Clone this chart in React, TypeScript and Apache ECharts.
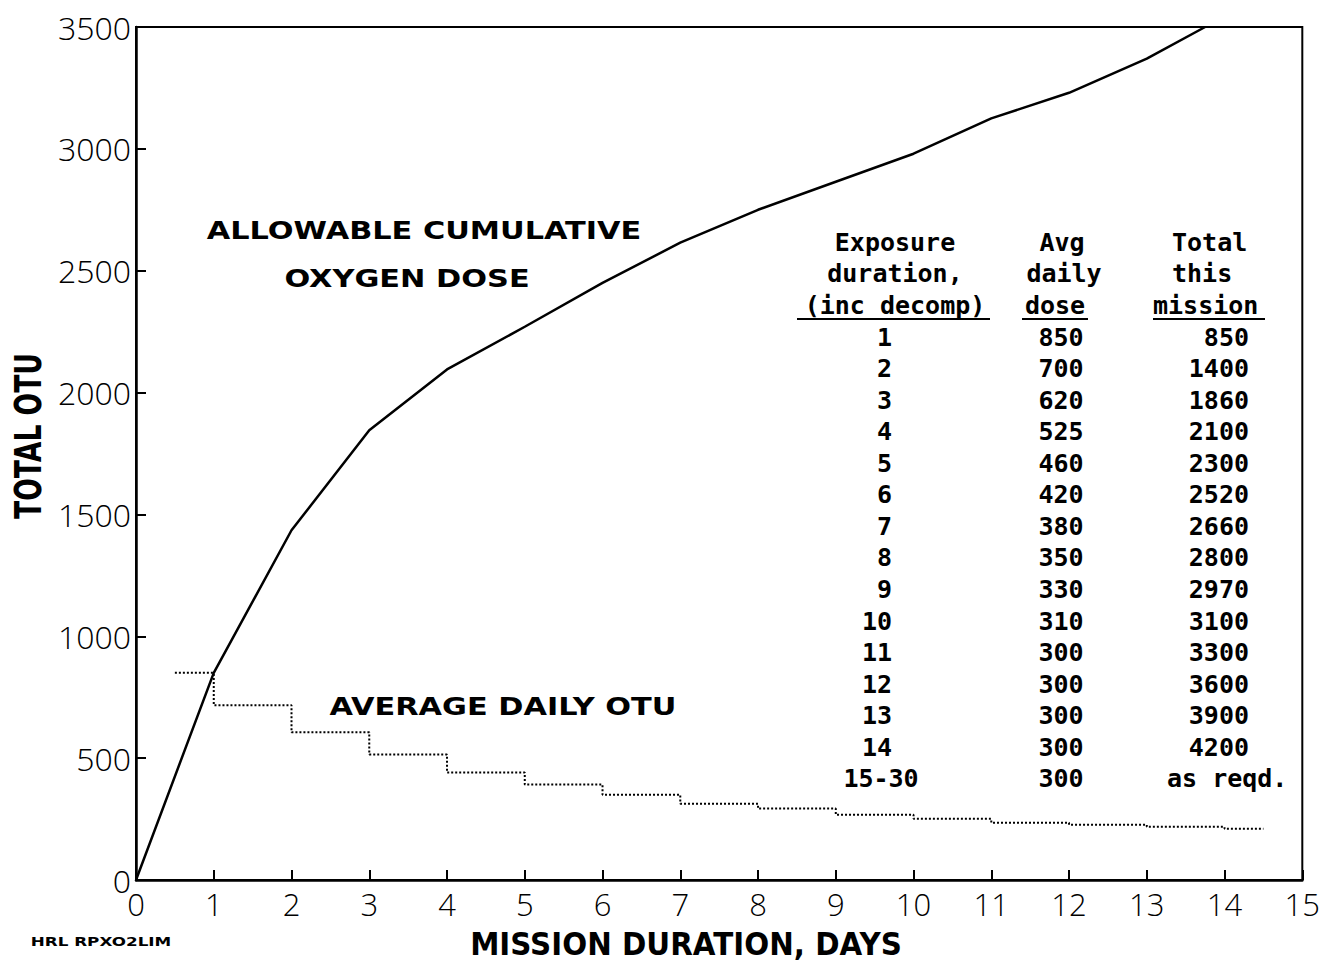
import React, { useEffect, useRef } from "react";
import * as echarts from "echarts";

// Allowable cumulative oxygen dose (solid curve)
const curveDays = [0, 1, 2, 3, 4, 5, 6, 7, 8, 9, 10, 11, 12, 13, 13.75];
const curveOtu = [0, 850, 1435, 1845, 2095, 2270, 2450, 2615, 2750, 2865, 2980, 3125, 3230, 3370, 3500];

// Average daily OTU (dotted step line): value held from each start day to the next
const stepDays = [0.5, 1, 2, 3, 4, 5, 6, 7, 8, 9, 10, 11, 12, 13, 14, 14.5];
const stepOtu = [850, 717, 606, 515, 441, 392, 350, 313, 293, 268, 251, 235, 227, 218, 210, 210];

// Table
const tableDuration = ["1", "2", "3", "4", "5", "6", "7", "8", "9", "10", "11", "12", "13", "14", "15-30"];
const tableAvgDose = ["850", "700", "620", "525", "460", "420", "380", "350", "330", "310", "300", "300", "300", "300", "300"];
const tableTotal = ["850", "1400", "1860", "2100", "2300", "2520", "2660", "2800", "2970", "3100", "3300", "3600", "3900", "4200", "as reqd."];

const headerCol1 = ["Exposure", "duration,", "(inc decomp)"];
const headerCol2 = ["Avg", "daily", "dose"];
const headerCol3 = ["Total", "this", "mission"];

const X_MIN = 0, X_MAX = 15, X_INTERVAL = 1;
const Y_MIN = 0, Y_MAX = 3500, Y_INTERVAL = 500;

const TICK_FONT = "'Open Sans', 'DejaVu Sans', sans-serif";
const PLOT_FONT = "'DejaVu Sans', sans-serif";
const MONO_FONT = "'DejaVu Sans Mono', monospace";

export default function App() {
  const ref = useRef<HTMLDivElement>(null);

  useEffect(() => {
    if (!ref.current) return;
    const chart = echarts.init(ref.current, null, { renderer: "svg" });

    const mono = (text: string, x: number, y: number, align: string) => ({
      type: "text",
      x,
      y,
      style: {
        text,
        fill: "#000",
        fontFamily: MONO_FONT,
        fontWeight: "bold",
        fontSize: 25,
        align,
        verticalAlign: "middle",
      },
    });

    const plotText = (text: string, x: number, y: number, fontSize: number, scaleX: number, scaleY = 1, rotation = 0) => ({
      type: "text",
      x,
      y,
      scaleX,
      scaleY,
      rotation,
      style: {
        text,
        fill: "#000",
        fontFamily: PLOT_FONT,
        fontWeight: "bold",
        fontSize,
        align: "center",
        verticalAlign: "middle",
      },
    });

    const graphics: any[] = [];
    // in-plot labels
    graphics.push(plotText("ALLOWABLE CUMULATIVE", 424, 231, 22, 1.38, 1.1));
    graphics.push(plotText("OXYGEN DOSE", 407, 279, 22, 1.38, 1.1));
    graphics.push(plotText("AVERAGE DAILY OTU", 503, 707, 22, 1.38, 1.1));
    // axis titles
    graphics.push(plotText("TOTAL OTU", 28, 436, 28, 0.95, 1.3, Math.PI / 2));
    graphics.push(plotText("MISSION DURATION, DAYS", 686, 943, 26, 1.13, 1.25));
    graphics.push(plotText("HRL RPXO2LIM", 101, 941, 12, 1.4));

    // table headers
    const headerY = [242, 273, 305];
    headerCol1.forEach((t, i) => graphics.push(mono(t, 895, headerY[i], "center")));
    graphics.push(mono(headerCol2[0], 1062, headerY[0], "center"));
    graphics.push(mono(headerCol2[1], 1064, headerY[1], "center"));
    graphics.push(mono(headerCol2[2], 1055, headerY[2], "center"));
    graphics.push(mono(headerCol3[0], 1172, headerY[0], "left"));
    graphics.push(mono(headerCol3[1], 1172, headerY[1], "left"));
    graphics.push(mono(headerCol3[2], 1153, headerY[2], "left"));
    // underlines
    const ul = (x1: number, x2: number) => ({
      type: "line",
      shape: { x1, y1: 319, x2, y2: 319 },
      style: { stroke: "#000", lineWidth: 2 },
    });
    graphics.push(ul(797, 990), ul(1022, 1088), ul(1153, 1265));

    // table rows
    tableDuration.forEach((d, i) => {
      const y = 337 + i * 31.57;
      if (d.includes("-")) graphics.push(mono(d, 881, y, "center"));
      else graphics.push(mono(d, 892, y, "right"));
      graphics.push(mono(tableAvgDose[i], 1061, y, "center"));
      const tot = tableTotal[i];
      if (/^\d+$/.test(tot)) graphics.push(mono(tot, 1249, y, "right"));
      else graphics.push(mono(tot, 1167, y, "left"));
    });

    chart.setOption({
      animation: false,
      backgroundColor: "#fff",
      grid: {
        left: 136,
        right: 18,
        top: 27,
        bottom: 83,
        show: true,
        borderColor: "#000",
        borderWidth: 2,
        containLabel: false,
      },
      xAxis: {
        type: "value",
        min: X_MIN,
        max: X_MAX,
        interval: X_INTERVAL,
        axisLine: { show: true, onZero: false, lineStyle: { color: "#000", width: 2.5 } },
        axisTick: { show: true, inside: true, length: 10, lineStyle: { color: "#000", width: 2 } },
        splitLine: { show: false },
        axisLabel: {
          color: "#000",
          fontFamily: TICK_FONT,
          fontWeight: 300,
          fontSize: 31,
          margin: 8,
          formatter: (v: number) => String(v),
        },
      },
      yAxis: {
        type: "value",
        min: Y_MIN,
        max: Y_MAX,
        interval: Y_INTERVAL,
        axisLine: { show: true, onZero: false, lineStyle: { color: "#000", width: 2.5 } },
        axisTick: { show: true, inside: true, length: 10, lineStyle: { color: "#000", width: 2 } },
        splitLine: { show: false },
        axisLabel: {
          color: "#000",
          fontFamily: TICK_FONT,
          fontWeight: 300,
          fontSize: 32,
          margin: 5,
          formatter: (v: number) => String(v),
        },
      },
      series: [
        {
          name: "Allowable cumulative oxygen dose",
          type: "line",
          data: curveDays.map((d, i) => [d, curveOtu[i]]),
          showSymbol: false,
          lineStyle: { color: "#000", width: 2.5 },
          clip: false,
        },
        {
          name: "Average daily OTU",
          type: "line",
          step: "end",
          data: stepDays.map((d, i) => [d, stepOtu[i]]),
          showSymbol: false,
          lineStyle: { color: "#000", width: 2, type: "dotted" },
        },
      ],
      graphic: graphics,
    });

    return () => chart.dispose();
  }, []);

  return (
    <div
      ref={ref}
      style={{ position: "fixed", left: 0, top: 0, width: 1323, height: 963, background: "#fff" }}
    />
  );
}
